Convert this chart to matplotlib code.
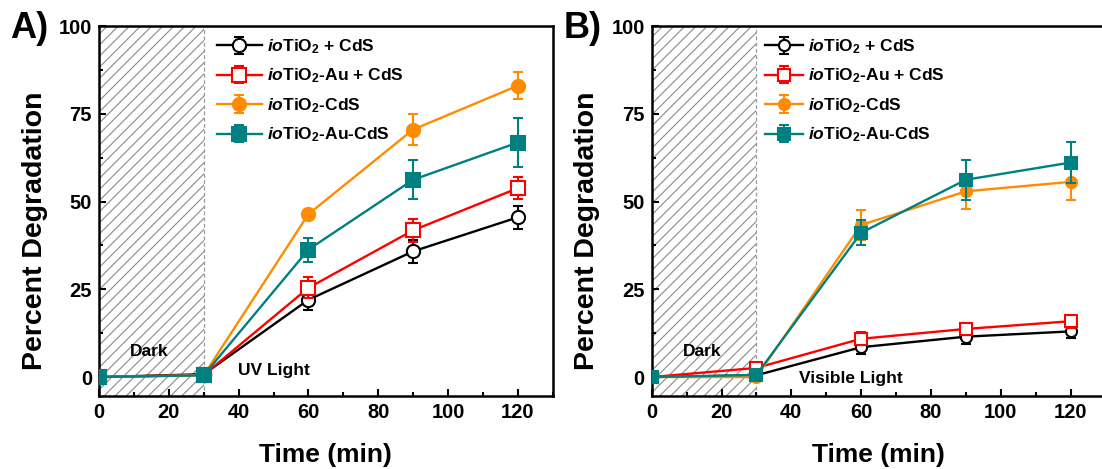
import matplotlib
matplotlib.use("Agg")
import matplotlib.pyplot as plt
from matplotlib.ticker import MultipleLocator

plt.rcParams['font.family'] = ['Liberation Sans', 'DejaVu Sans']
plt.rcParams['font.weight'] = 'bold'
plt.rcParams['mathtext.fontset'] = 'custom'
plt.rcParams['mathtext.rm'] = 'Liberation Sans:bold'
plt.rcParams['mathtext.it'] = 'Liberation Sans:italic:bold'
plt.rcParams['mathtext.bf'] = 'Liberation Sans:bold'
plt.rcParams['mathtext.default'] = 'rm'
plt.rcParams['hatch.color'] = '#8a8a8a'
plt.rcParams['hatch.linewidth'] = 0.8

time = [0, 30, 60, 90, 120]
labels = [r"$\mathit{io}$TiO$_2$ + CdS", r"$\mathit{io}$TiO$_2$-Au + CdS",
          r"$\mathit{io}$TiO$_2$-CdS", r"$\mathit{io}$TiO$_2$-Au-CdS"]

# Panel A (UV light)
uv_tio2_plus_cds = [0, 0.8, 22.0, 35.8, 45.5]
uv_tio2_plus_cds_err = [0.3, 0.5, 3.0, 3.3, 3.2]
uv_tio2au_plus_cds = [0, 0.6, 25.4, 41.8, 53.8]
uv_tio2au_plus_cds_err = [0.3, 0.5, 3.0, 3.3, 3.1]
uv_tio2_cds = [0, 0.5, 46.4, 70.5, 83.0]
uv_tio2_cds_err = [0.3, 0.5, 1.0, 4.3, 3.8]
uv_tio2au_cds = [0, 0.5, 36.3, 56.2, 66.8]
uv_tio2au_cds_err = [0.3, 0.5, 3.4, 5.5, 7.0]

# Panel B (visible light)
vis_tio2_plus_cds = [0, 0.5, 8.5, 11.5, 13.0]
vis_tio2_plus_cds_err = [0.3, 0.5, 1.8, 2.0, 2.0]
vis_tio2au_plus_cds = [0, 2.6, 10.9, 13.7, 15.9]
vis_tio2au_plus_cds_err = [0.3, 1.0, 1.8, 1.8, 1.8]
vis_tio2_cds = [0, 0.0, 43.3, 52.9, 55.6]
vis_tio2_cds_err = [0.3, 0.5, 4.2, 4.9, 5.1]
vis_tio2au_cds = [0, 0.6, 41.1, 56.2, 61.1]
vis_tio2au_cds_err = [0.3, 0.5, 3.6, 5.7, 5.8]

colors = ['black', '#ff0000', '#ff8c00', '#008080']
markers = ['o', 's', 'o', 's']
fills = ['white', 'white', None, None]

fig = plt.figure(figsize=(11.02, 4.69), dpi=100)
W, H = 1102, 469
axA = fig.add_axes([99 / W, 1 - 396 / H, 453.7 / W, 370 / H])
axB = fig.add_axes([651.7 / W, 1 - 396 / H, 453.7 / W, 370 / H])

panels = [
    (axA, [uv_tio2_plus_cds, uv_tio2au_plus_cds, uv_tio2_cds, uv_tio2au_cds],
     [uv_tio2_plus_cds_err, uv_tio2au_plus_cds_err, uv_tio2_cds_err, uv_tio2au_cds_err],
     "A)", "UV Light", 50, 2.0, 0.235, 9.5, 2.6),
    (axB, [vis_tio2_plus_cds, vis_tio2au_plus_cds, vis_tio2_cds, vis_tio2au_cds],
     [vis_tio2_plus_cds_err, vis_tio2au_plus_cds_err, vis_tio2_cds_err, vis_tio2au_cds_err],
     "B)", "Visible Light", 57, -0.3, 0.225, 8, 2.2),
]

for ax, series, errs, tag, light, lx, ly, legx, ms, hl in panels:
    ax.set_xlim(0, 130)
    ax.set_ylim(-5.4, 100)
    ax.axvspan(0, 30, facecolor='white', edgecolor='#8a8a8a', hatch='///', linewidth=0, zorder=0)
    ax.axvline(30, color='#9a9a9a', linestyle=(0, (3, 2)), linewidth=0.9, zorder=1)
    handles = []
    for i in range(4):
        mfc = fills[i] if fills[i] else colors[i]
        h = ax.errorbar(time, series[i], yerr=errs[i], color=colors[i], marker=markers[i],
                        markersize=ms, markerfacecolor=mfc, markeredgecolor=colors[i],
                        markeredgewidth=1.5, linewidth=1.7, capsize=3.5, capthick=1.5,
                        elinewidth=1.5, label=labels[i], zorder=3 + i)
        handles.append(h)
    leg = ax.legend(handles=handles, loc='upper left', bbox_to_anchor=(legx, 1.0),
                    frameon=False, fontsize=12.5, handlelength=hl, handletextpad=0.3,
                    labelspacing=0.62, borderaxespad=0.25)
    ax.text(14.5, 7.2, "Dark", fontsize=12.5, fontweight='bold', ha='center', va='center',
            zorder=2)
    ax.text(lx, ly, light, fontsize=12.5, fontweight='bold', ha='center', va='center')
    ax.xaxis.set_major_locator(MultipleLocator(20))
    ax.xaxis.set_minor_locator(MultipleLocator(10))
    ax.yaxis.set_major_locator(MultipleLocator(25))
    ax.yaxis.set_minor_locator(MultipleLocator(12.5))
    ax.tick_params(which='both', direction='in', top=False, right=False, width=1.5,
                   labelsize=14.5)
    ax.tick_params(which='major', length=5, pad=5)
    ax.tick_params(which='minor', length=3)
    for lab in ax.get_xticklabels() + ax.get_yticklabels():
        lab.set_fontweight('bold')
    for sp in ax.spines.values():
        sp.set_linewidth(1.8)
    ax.set_xlabel("Time (min)", fontsize=19, fontweight='bold', labelpad=15)
    ax.set_ylabel("Percent Degradation", fontsize=20.5, fontweight='bold')
    ax.yaxis.set_label_coords(-0.113, 0.446)
    ax.text(-0.195, 1.04, tag, transform=ax.transAxes, fontsize=26, fontweight='bold',
            ha='left', va='top')

fig.savefig("out.png", dpi=100)
